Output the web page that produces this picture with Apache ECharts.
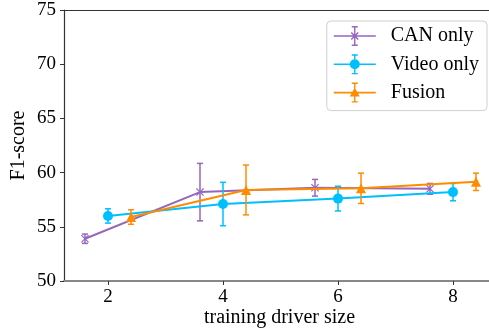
<!DOCTYPE html>
<html><head><meta charset="utf-8">
<script src="https://cdn.jsdelivr.net/npm/echarts@6/dist/echarts.min.js"></script>
<style>html,body{margin:0;padding:0;background:#fff}#c{width:489px;height:335px}</style>
</head><body><div id="c"></div>
<script>
const seriesNames = ['CAN only', 'Video only', 'Fusion'];
const canX = [1.6, 3.6, 5.6, 7.6];
const canY = [53.9, 58.2, 58.6, 58.5];
const canErr = [0.43, 2.65, 0.77, 0.5];
const videoX = [2, 4, 6, 8];
const videoY = [56.0, 57.1, 57.6, 58.2];
const videoErr = [0.66, 2.0, 1.14, 0.8];
const fusionX = [2.4, 4.4, 6.4, 8.4];
const fusionY = [55.9, 58.4, 58.55, 59.15];
const fusionErr = [0.67, 2.3, 1.4, 0.8];
const xTicks = [2, 4, 6, 8];
const colors = ['#9467bd', '#00bfff', '#ff8c00'];

const font = "'Liberation Serif', serif";
const xMarker = 'path://M0,1L1,0L5,4L9,0L10,1L6,5L10,9L9,10L5,6L1,10L0,9L4,5Z';
function legendIcon(marker) {
  const base = 'M0,9.2L42,9.2L42,10.8L0,10.8Z M20.3,0L21.7,0L21.7,20L20.3,20Z M18,0L24,0L24,1.4L18,1.4Z M18,18.6L24,18.6L24,20L18,20Z ';
  return 'path://' + base + marker;
}
const icons = [
  legendIcon('M17,7L18,6L21,9L24,6L25,7L22,10L25,13L24,14L21,11L18,14L17,13L20,10Z'),
  legendIcon('M16,10A5,5 0 1,1 26,10A5,5 0 1,1 16,10Z'),
  legendIcon('M21,5L26,14L16,14Z')
];

function pairs(xs, ys) { return xs.map((x, i) => [x, ys[i]]); }
function errData(xs, ys, es) { return xs.map((x, i) => [x, ys[i] - es[i], ys[i] + es[i]]); }

function errSeries(name, xs, ys, es, color, z) {
  return {
    type: 'custom', name: name, z: z, silent: true,
    data: errData(xs, ys, es),
    renderItem: function (params, api) {
      const x = api.value(0);
      const lo = api.coord([x, api.value(1)]);
      const hi = api.coord([x, api.value(2)]);
      const cw = 3;
      const st = { stroke: color, lineWidth: 1.5 };
      return {
        type: 'group',
        children: [
          { type: 'line', shape: { x1: lo[0], y1: lo[1], x2: hi[0], y2: hi[1] }, style: st },
          { type: 'line', shape: { x1: lo[0] - cw, y1: lo[1], x2: lo[0] + cw, y2: lo[1] }, style: st },
          { type: 'line', shape: { x1: hi[0] - cw, y1: hi[1], x2: hi[0] + cw, y2: hi[1] }, style: st }
        ]
      };
    }
  };
}

function lineSeries(name, xs, ys, color, symbol, size, z) {
  return {
    type: 'line', name: name, z: z, data: pairs(xs, ys),
    symbol: symbol, symbolSize: size, showSymbol: true,
    lineStyle: { color: color, width: 2 },
    itemStyle: { color: color, borderWidth: 0 },
    emphasis: { disabled: true }, animation: false
  };
}

const chart = echarts.init(document.getElementById('c'), null, { renderer: 'canvas' });
chart.setOption({
  animation: false,
  color: colors,
  grid: { left: 64, top: 10, bottom: 54, right: -6, show: false, containLabel: false, outerBoundsMode: 'none' },
  legend: {
    right: 2, top: 21, orient: 'vertical', itemGap: 8.3,
    itemWidth: 42, itemHeight: 20,
    backgroundColor: '#fff', borderColor: '#d0d0d0', borderWidth: 1, borderRadius: 4,
    padding: [5, 8, 8, 7],
    textStyle: { fontFamily: font, fontSize: 20, color: '#000', padding: [0, 0, 0, 10] },
    data: seriesNames.map((n, i) => ({ name: n, icon: icons[i] }))
  },
  xAxis: {
    type: 'value', min: 1.235, max: 8.73,
    name: 'training driver size', nameLocation: 'middle', nameGap: 27, nameMoveOverlap: false,
    nameTextStyle: { fontFamily: font, fontSize: 20, color: '#000', verticalAlign: 'top' },
    axisLine: { show: true, onZero: false, lineStyle: { color: '#888', width: 2 } },
    axisTick: { show: true, customValues: xTicks, length: 4, lineStyle: { color: '#333', width: 1 } },
    axisLabel: { customValues: xTicks, fontFamily: font, fontSize: 19, color: '#000', margin: 7 },
    splitLine: { show: false }
  },
  yAxis: [{
    type: 'value', min: 50, max: 75, interval: 5,
    name: 'F1-score', nameLocation: 'middle', nameGap: 35, nameMoveOverlap: false,
    nameTextStyle: { fontFamily: font, fontSize: 20, color: '#000' },
    axisLine: { show: true, lineStyle: { color: '#333', width: 1.2 } },
    axisTick: { show: true, length: 4, lineStyle: { color: '#333' } },
    axisLabel: { fontFamily: font, fontSize: 19, color: '#000', margin: 8 },
    splitLine: { show: false }
  }],
  graphic: [{
    type: 'line', shape: { x1: 64, y1: 10.5, x2: 489, y2: 10.5 },
    style: { stroke: '#333', lineWidth: 1.2 }, silent: true
  }],
  series: [
    errSeries('CAN only', canX, canY, canErr, colors[0], 2),
    lineSeries('CAN only', canX, canY, colors[0], xMarker, 8, 3),
    errSeries('Video only', videoX, videoY, videoErr, colors[1], 4),
    lineSeries('Video only', videoX, videoY, colors[1], 'circle', 10, 5),
    errSeries('Fusion', fusionX, fusionY, fusionErr, colors[2], 6),
    lineSeries('Fusion', fusionX, fusionY, colors[2], 'triangle', 10, 7)
  ]
});
</script></body></html>
